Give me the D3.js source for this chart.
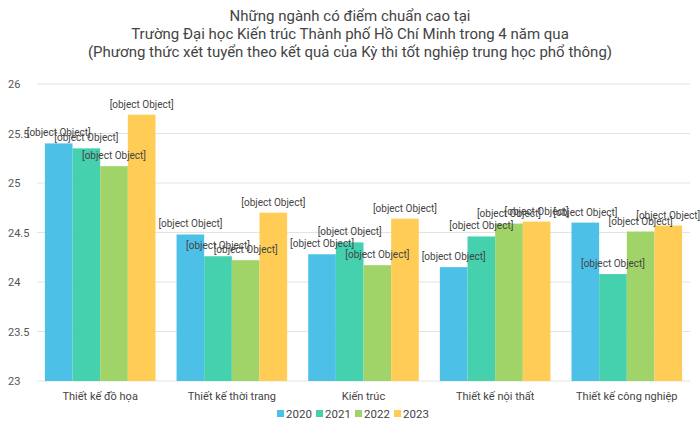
<!DOCTYPE html>
<html><head><meta charset="utf-8">
<script src="https://cdn.jsdelivr.net/npm/d3@7"></script>
<style>body{margin:0;background:#fff}</style>
</head><body><div id="chart"></div>
<script>
const categories = ['Thiết kế đồ họa', 'Thiết kế thời trang', 'Kiến trúc', 'Thiết kế nội thất', 'Thiết kế công nghiệp'];
const years = ['2020', '2021', '2022', '2023'];
const scores = [
  [25.4, 25.35, 25.17, 25.69],
  [24.48, 24.26, 24.22, 24.7],
  [24.28, 24.4, 24.17, 24.64],
  [24.15, 24.46, 24.59, 24.61],
  [24.6, 24.08, 24.51, 24.57]
];
const yTicks = [23, 23.5, 24, 24.5, 25, 25.5, 26];
const colors = ['#4dc0e8', '#45d0ae', '#a0d468', '#ffcd55'];
const titleLines = [
  'Những ngành có điểm chuẩn cao tại',
  'Trường Đại học Kiến trúc Thành phố Hồ Chí Minh trong 4 năm qua',
  '(Phương thức xét tuyển theo kết quả của Kỳ thi tốt nghiệp trung học phổ thông)'
];

const width = 700, height = 436;
const margin = { top: 84, right: 10, bottom: 55, left: 37 };
const font = 'Roboto, sans-serif';

const svg = d3.select('#chart').append('svg')
  .attr('width', width).attr('height', height)
  .style('font-family', font);

svg.append('g').selectAll('text').data(titleLines).join('text')
  .attr('x', width / 2).attr('y', (d, i) => 21 + i * 18)
  .attr('text-anchor', 'middle').attr('font-size', 15).attr('fill', '#444')
  .text((d) => d);

const x = d3.scaleBand().domain(categories)
  .range([margin.left, width - margin.right]).paddingInner(0.16).paddingOuter(0.06);
const xs = d3.scaleBand().domain(years).range([0, x.bandwidth()]);
const y = d3.scaleLinear().domain([23, 26]).range([height - margin.bottom, margin.top]);

svg.append('g').selectAll('line').data(yTicks).join('line')
  .attr('x1', margin.left).attr('x2', width - margin.right)
  .attr('y1', (d) => y(d)).attr('y2', (d) => y(d))
  .attr('stroke', '#e3e3e3');

svg.append('g').selectAll('text').data(yTicks).join('text')
  .attr('x', 8).attr('y', (d) => y(d) + 4)
  .attr('font-size', 11).attr('fill', '#555')
  .text((d) => d);

const groups = svg.append('g').selectAll('g').data(categories).join('g')
  .attr('transform', (d) => `translate(${x(d)},0)`);

groups.selectAll('rect').data((d, i) => scores[i].map((v, j) => ({ v, year: years[j], j })))
  .join('rect')
  .attr('x', (d) => xs(d.year)).attr('width', xs.bandwidth())
  .attr('y', (d) => y(d.v)).attr('height', (d) => y(23) - y(d.v))
  .attr('fill', (d) => colors[d.j]);

groups.selectAll('text.val').data((d, i) => scores[i].map((v, j) => ({ v, year: years[j] })))
  .join('text').attr('class', 'val')
  .attr('x', (d) => xs(d.year) + xs.bandwidth() / 2).attr('y', (d) => y(d.v) - 7)
  .attr('text-anchor', 'middle').attr('font-size', 10).attr('fill', '#444')
  .text((d) => d);

svg.append('g').selectAll('text').data(categories).join('text')
  .attr('x', (d) => x(d) + x.bandwidth() / 2).attr('y', y(23) + 19)
  .attr('text-anchor', 'middle').attr('font-size', 11).attr('fill', '#444')
  .text((d) => d);

const legend = svg.append('g').attr('transform', 'translate(277,418)');
const item = legend.selectAll('g').data(years).join('g')
  .attr('transform', (d, i) => `translate(${i * 39},0)`);
item.append('rect').attr('x', 0).attr('y', -8).attr('width', 7).attr('height', 7)
  .attr('fill', (d, i) => colors[i]);
item.append('text').attr('x', 9).attr('y', 0).attr('font-size', 11.5).attr('fill', '#444')
  .text((d) => d);
</script></body></html>
